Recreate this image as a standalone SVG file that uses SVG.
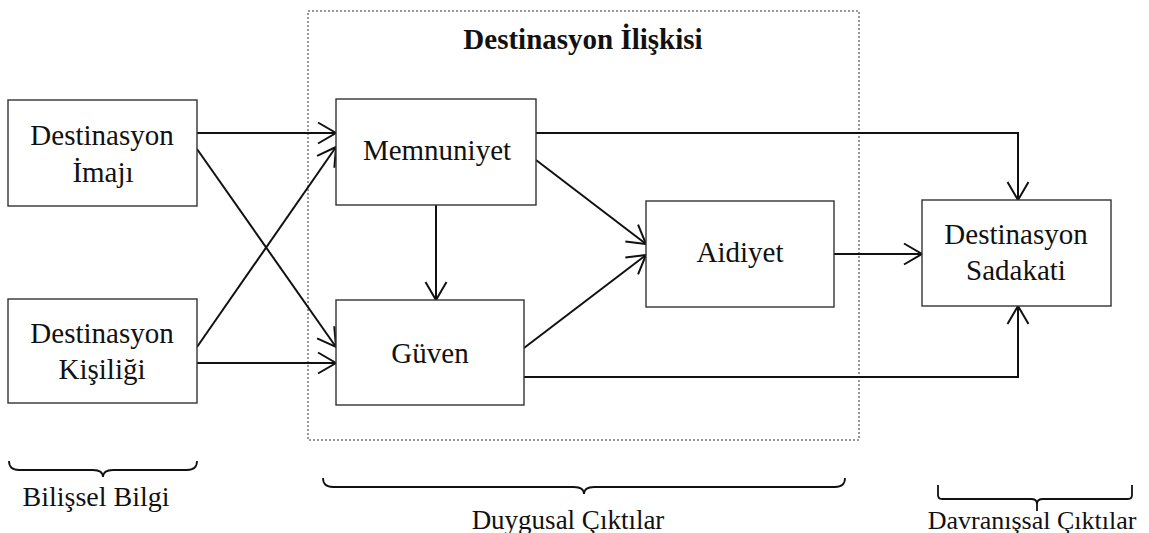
<svg xmlns="http://www.w3.org/2000/svg" width="1149" height="533" viewBox="0 0 1149 533">
  <defs>
    <style>
      .box { fill: #ffffff; stroke: #333333; stroke-width: 1.4; }
      .lbl { font-family: 'Liberation Serif', 'Times New Roman', Times, serif; font-size: 29px; fill: #111111; text-anchor: middle; }
      .cap { font-family: 'Liberation Serif', 'Times New Roman', Times, serif; font-size: 26px; fill: #111111; text-anchor: middle; }
      .title { font-family: 'Liberation Serif', 'Times New Roman', Times, serif; font-size: 29px; font-weight: bold; fill: #111111; text-anchor: middle; }
      .edge { fill: none; stroke: #111111; stroke-width: 2; marker-end: url(#arrow); }
      .brace { fill: none; stroke: #111111; stroke-width: 1.8; }
      .frame { fill: none; stroke: #333333; stroke-width: 1; stroke-dasharray: 2 2; }
    </style>
    <marker id="arrow" viewBox="-19 -12 21 24" refX="0" refY="0" markerWidth="21" markerHeight="24" markerUnits="userSpaceOnUse" orient="auto">
      <path d="M-18,-10.5 L0,0 L-18,10.5" fill="none" stroke="#111111" stroke-width="2"/>
    </marker>
  </defs>

  <rect width="1149" height="533" fill="#ffffff"/>

  <!-- dotted frame around the relationship block -->
  <g id="relationship-frame">
    <rect class="frame" x="308" y="11" width="551" height="429"/>
    <text class="title" x="583" y="49">Destinasyon İlişkisi</text>
  </g>

  <!-- connectors -->
  <g id="connectors">
    <path class="edge" d="M197,133 H336"/>
    <path class="edge" d="M197,149 L336,347"/>
    <path class="edge" d="M197,347 L336,147"/>
    <path class="edge" d="M197,363 H336"/>
    <path class="edge" d="M436,205 V300"/>
    <path class="edge" d="M536,160 L646,244"/>
    <path class="edge" d="M524,348 L646,255"/>
    <path class="edge" d="M834,254 H922"/>
    <path class="edge" d="M536,133 H1018 V200"/>
    <path class="edge" d="M524,377 H1018 V306"/>
  </g>

  <g id="node-imaj">
    <rect class="box" x="8" y="100" width="189" height="106"/>
    <text class="lbl" x="102" y="145">Destinasyon</text>
    <text class="lbl" x="103" y="182">İmajı</text>
  </g>

  <g id="node-kisilik">
    <rect class="box" x="8" y="299" width="189" height="104"/>
    <text class="lbl" x="102" y="343">Destinasyon</text>
    <text class="lbl" x="102" y="379">Kişiliği</text>
  </g>

  <g id="node-memnuniyet">
    <rect class="box" x="336" y="99" width="200" height="106"/>
    <text class="lbl" x="437" y="160">Memnuniyet</text>
  </g>

  <g id="node-guven">
    <rect class="box" x="336" y="300" width="188" height="105"/>
    <text class="lbl" x="430" y="363">Güven</text>
  </g>

  <g id="node-aidiyet">
    <rect class="box" x="646" y="201" width="188" height="106"/>
    <text class="lbl" x="740" y="262">Aidiyet</text>
  </g>

  <g id="node-sadakat">
    <rect class="box" x="922" y="200" width="189" height="106"/>
    <text class="lbl" x="1016" y="244">Destinasyon</text>
    <text class="lbl" x="1016" y="280">Sadakati</text>
  </g>

  <!-- group braces with captions -->
  <g id="brace-bilissel">
    <path class="brace" d="M9,461 Q9,470 19,470 H93 Q103,470 103,477 Q103,470 113,470 H187 Q197,470 197,461"/>
    <text class="cap" x="96" y="506" style="font-size:28px">Bilişsel Bilgi</text>
  </g>

  <g id="brace-duygusal">
    <path class="brace" d="M323,478 Q323,487 333,487 H574 Q584,487 584,494 Q584,487 594,487 H835 Q845,487 845,478"/>
    <text class="cap" x="568" y="529" style="font-size:27px">Duygusal Çıktılar</text>
  </g>

  <g id="brace-davranissal">
    <path class="brace" d="M938,485 V495 Q938,499 942,499 H1031 Q1037,499 1037,504 V511 M1037,504 Q1037,499 1043,499 H1128 Q1132,499 1132,495 V485"/>
    <text class="cap" x="1032" y="529">Davranışsal Çıktılar</text>
  </g>
</svg>
